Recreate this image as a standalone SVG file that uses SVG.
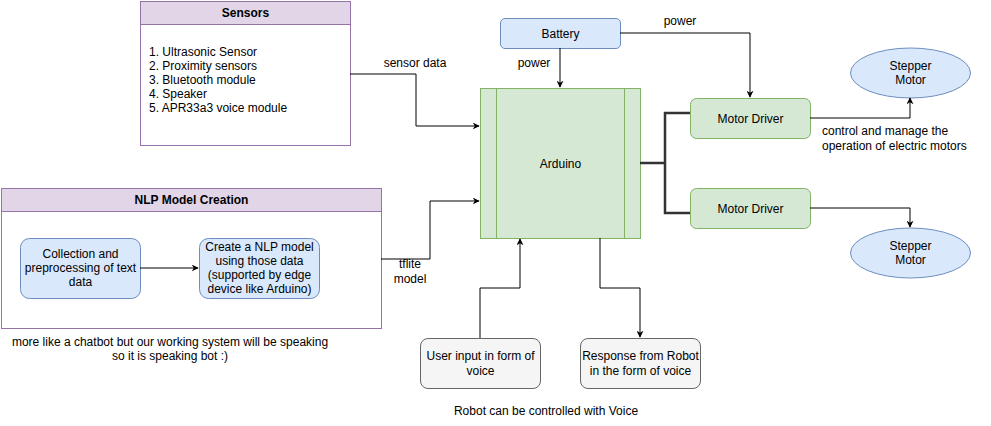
<svg xmlns="http://www.w3.org/2000/svg" width="991" height="426" viewBox="0 0 991 426">
<defs>
<marker id="arr" viewBox="0 0 10 10" refX="9" refY="5" markerWidth="7" markerHeight="7" orient="auto" markerUnits="userSpaceOnUse"><path d="M0,0 L10,5 L0,10 L3,5 Z" fill="#000"/></marker>
<style>
text{font-family:"Liberation Sans",Arial,sans-serif;font-size:12px;fill:#000}
.c{text-anchor:middle}
.b{font-weight:bold}
.purple{fill:#e1d5e7;stroke:#9673a6;stroke-width:1}
.cont{fill:#fff;stroke:#9673a6;stroke-width:1}
.blue{fill:#dae8fc;stroke:#6c8ebf;stroke-width:1}
.green{fill:#d5e8d4;stroke:#82b366;stroke-width:1}
.gray{fill:#f5f5f5;stroke:#666;stroke-width:1}
.ln{fill:none;stroke:#000;stroke-width:1}
.thick{fill:none;stroke:#333;stroke-width:2.5}
</style>
</defs>
<rect width="991" height="426" fill="#fff"/>
<g id="sensors">
<rect class="cont" x="140.5" y="1.5" width="210" height="144"/>
<rect class="purple" x="140.5" y="1.5" width="210" height="23"/>
<text class="c b" x="245.5" y="17">Sensors</text>
<text x="149" y="56">1. Ultrasonic Sensor</text>
<text x="149" y="70">2. Proximity sensors</text>
<text x="149" y="84">3. Bluetooth module</text>
<text x="149" y="98">4. Speaker</text>
<text x="149" y="112">5. APR33a3 voice module</text>
</g>
<g id="nlp">
<rect class="cont" x="1.5" y="188.5" width="380" height="140"/>
<rect class="purple" x="1.5" y="188.5" width="380" height="23"/>
<text class="c b" x="191.5" y="204">NLP Model Creation</text>
</g>
<g id="collection">
<rect class="blue" x="20.5" y="238.5" width="120" height="60" rx="9"/>
<text class="c" x="80.5" y="258">Collection and</text>
<text class="c" x="80.5" y="272">preprocessing of text</text>
<text class="c" x="80.5" y="286">data</text>
</g>
<g id="create">
<rect class="blue" x="199.5" y="238.5" width="120" height="60" rx="9"/>
<text class="c" x="259.5" y="251">Create a NLP model</text>
<text class="c" x="259.5" y="265">using those data</text>
<text class="c" x="259.5" y="279">(supported by edge</text>
<text class="c" x="259.5" y="293">device like Arduino)</text>
</g>
<g id="note">
<text class="c" x="170" y="346">more like a chatbot but our working system will be speaking</text>
<text class="c" x="170" y="360">so it is speaking bot :)</text>
</g>
<g id="battery">
<rect class="blue" x="500.5" y="18.5" width="120" height="30" rx="4.5"/>
<text class="c" x="560.5" y="37.5">Battery</text>
</g>
<g id="arduino">
<rect class="green" x="480.5" y="88.5" width="160" height="150"/>
<line x1="496.5" y1="88.5" x2="496.5" y2="238.5" stroke="#82b366"/>
<line x1="624.5" y1="88.5" x2="624.5" y2="238.5" stroke="#82b366"/>
<text class="c" x="560.5" y="167.5">Arduino</text>
</g>
<g id="driver1">
<rect class="green" x="690.5" y="98.5" width="120" height="40" rx="6"/>
<text class="c" x="750.5" y="122.5">Motor Driver</text>
</g>
<g id="driver2">
<rect class="green" x="690.5" y="188.5" width="120" height="40" rx="6"/>
<text class="c" x="750.5" y="212.5">Motor Driver</text>
</g>
<g id="motor1">
<ellipse class="blue" cx="910.5" cy="73" rx="60" ry="25"/>
<text class="c" x="910.5" y="70">Stepper</text>
<text class="c" x="910.5" y="84">Motor</text>
</g>
<g id="motor2">
<ellipse class="blue" cx="910.5" cy="253" rx="60" ry="25"/>
<text class="c" x="910.5" y="250">Stepper</text>
<text class="c" x="910.5" y="264">Motor</text>
</g>
<g id="userinput">
<rect class="gray" x="420.5" y="338.5" width="120" height="50" rx="7.5"/>
<text class="c" x="480.5" y="360">User input in form of</text>
<text class="c" x="480.5" y="375">voice</text>
</g>
<g id="response">
<rect class="gray" x="580.5" y="338.5" width="120" height="50" rx="7.5"/>
<text class="c" x="640.5" y="360">Response from Robot</text>
<text class="c" x="640.5" y="375">in the form of voice</text>
</g>
<g id="caption">
<text class="c" x="546" y="415">Robot can be controlled with Voice</text>
</g>
<g id="connectors">
<path class="ln" d="M350,74 H416 V126 H479" marker-end="url(#arr)"/>
<path class="ln" d="M381,259 H430 V201 H479" marker-end="url(#arr)"/>
<path class="ln" d="M140,268 H198" marker-end="url(#arr)"/>
<path class="ln" d="M560,48 V87" marker-end="url(#arr)"/>
<path class="ln" d="M620,33 H750 V97" marker-end="url(#arr)"/>
<path class="thick" d="M640,163 H665 V113 H690 M665,163 V213 H690"/>
<path class="ln" d="M810,118 H910 V98" marker-end="url(#arr)"/>
<path class="ln" d="M810,208 H910 V227" marker-end="url(#arr)"/>
<path class="ln" d="M480,338 V288 H520 V239" marker-end="url(#arr)"/>
<path class="ln" d="M600,238 V288 H640 V337" marker-end="url(#arr)"/>
<text class="c" x="415" y="67">sensor data</text>
<text class="c" x="410" y="268">tflite</text>
<text class="c" x="410" y="283">model</text>
<text class="c" x="534" y="67">power</text>
<text class="c" x="680" y="25">power</text>
<text x="822" y="135">control and manage the</text>
<text x="822" y="150">operation of electric motors</text>
</g>
</svg>
